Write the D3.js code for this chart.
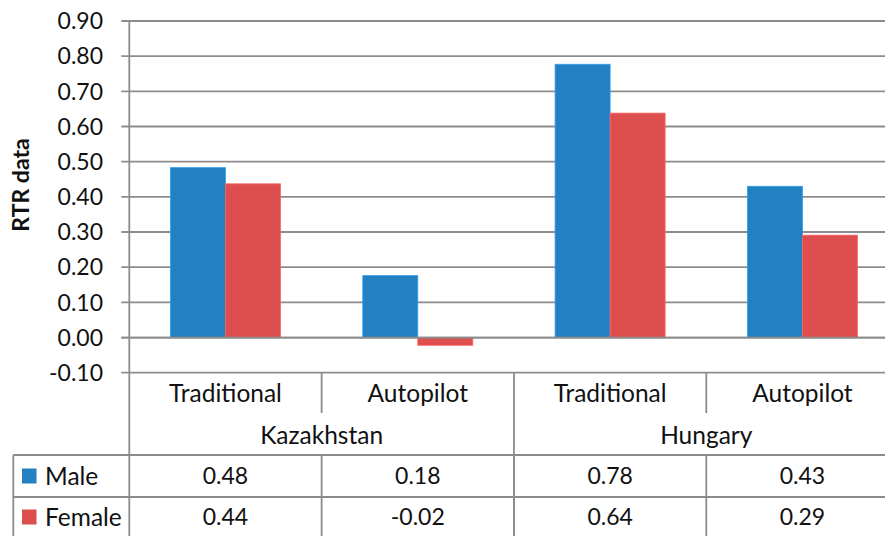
<!DOCTYPE html>
<html><head><meta charset="utf-8">
<script src="https://cdn.jsdelivr.net/npm/d3@7"></script>
<style>
html,body{margin:0;padding:0;background:#fff;overflow:hidden}
svg{display:block;font-family:Lato,"Open Sans",sans-serif}
</style></head>
<body>
<script>
const groups = ["Kazakhstan", "Hungary"];
const categories = ["Traditional", "Autopilot", "Traditional", "Autopilot"];
const categoryGroup = [0, 0, 1, 1];
const seriesNames = ["Male", "Female"];
const male = [0.483, 0.176, 0.777, 0.430];
const female = [0.437, -0.022, 0.638, 0.291];
const yTicks = [-0.1, 0, 0.1, 0.2, 0.3, 0.4, 0.5, 0.6, 0.7, 0.8, 0.9];
const colors = ["#2380c2", "#dc4f4e"];

const W = 885, H = 536;
const L = 129.3, R = 898.6, T = 21, B = 372.7;
const gridColor = "#8c8c8c";
const fs = 23, fsText = 24.5;

const svg = d3.select("body").append("svg").attr("width", W).attr("height", H);

const y = d3.scaleLinear().domain([-0.1, 0.9]).range([B, T]);
const x0 = d3.scaleBand().domain(d3.range(categories.length)).range([L, R]).paddingInner(0).paddingOuter(0);
const bw = x0.bandwidth();
const groupW = bw * 0.572;
const x1 = d3.scaleBand().domain(d3.range(seriesNames.length)).range([(bw - groupW) / 2, (bw + groupW) / 2]);

// gridlines
svg.append("g").selectAll("line").data(yTicks).join("line")
  .attr("x1", L - 8).attr("x2", W)
  .attr("y1", d => y(d)).attr("y2", d => y(d))
  .attr("stroke", gridColor).attr("stroke-width", 1.8);

// tick labels
svg.append("g").selectAll("text").data(yTicks).join("text")
  .attr("x", 103).attr("y", d => y(d)).attr("dy", "0.36em")
  .attr("text-anchor", "end").attr("font-size", fs).attr("fill", "#111")
  .text(d => d.toFixed(2));

// bars
const series = [male, female];
series.forEach((vals, si) => {
  svg.append("g").selectAll("rect").data(vals).join("rect")
    .attr("x", (d, i) => x0(i) + x1(si))
    .attr("width", x1.bandwidth())
    .attr("y", d => y(Math.max(0, d)))
    .attr("height", d => Math.abs(y(d) - y(0)))
    .attr("fill", colors[si])
    .attr("stroke", d3.color(colors[si]).brighter(0.6))
    .attr("stroke-width", 0.8);
});

// zero line on top
svg.append("line").attr("x1", L - 8).attr("x2", W).attr("y1", y(0)).attr("y2", y(0))
  .attr("stroke", gridColor).attr("stroke-width", 1.8);

// y axis line + table vertical
svg.append("line").attr("x1", L).attr("x2", L).attr("y1", T).attr("y2", H)
  .attr("stroke", gridColor).attr("stroke-width", 1.8);

// y title
svg.append("text").attr("transform", `translate(29,185) rotate(-90)`)
  .attr("text-anchor", "middle").attr("font-size", fs).attr("font-weight", "bold").attr("fill", "#111")
  .text("RTR data");

// table geometry
const rowTop = 455, row2 = 497, catLabelY = 393, groupLabelY = 435;
const tableLeft = 13.3;

// category separators (short)
svg.append("g").selectAll("line").data(d3.range(1, categories.length)).join("line")
  .attr("x1", i => x0(i)).attr("x2", i => x0(i))
  .attr("y1", B).attr("y2", i => categoryGroup[i] !== categoryGroup[i - 1] ? H : 413)
  .attr("stroke", gridColor).attr("stroke-width", 1.8);
// data-row separators
svg.append("g").selectAll("line").data(d3.range(1, categories.length)).join("line")
  .attr("x1", i => x0(i)).attr("x2", i => x0(i))
  .attr("y1", rowTop).attr("y2", H)
  .attr("stroke", gridColor).attr("stroke-width", 1.8);

// horizontal table lines
[rowTop, row2].forEach(yy => {
  svg.append("line").attr("x1", tableLeft).attr("x2", W).attr("y1", yy).attr("y2", yy)
    .attr("stroke", gridColor).attr("stroke-width", 1.8);
});
svg.append("line").attr("x1", tableLeft).attr("x2", tableLeft).attr("y1", rowTop).attr("y2", H)
  .attr("stroke", gridColor).attr("stroke-width", 1.8);

// category labels
svg.append("g").selectAll("text").data(categories).join("text")
  .attr("x", (d, i) => x0(i) + bw / 2).attr("y", catLabelY).attr("dy", "0.36em")
  .attr("text-anchor", "middle").attr("font-size", fsText).attr("fill", "#111")
  .text(d => d);

// group labels
svg.append("g").selectAll("text").data(groups).join("text")
  .attr("x", (d, gi) => {
    const idx = d3.range(categories.length).filter(i => categoryGroup[i] === gi);
    return (x0(idx[0]) + x0(idx[idx.length - 1]) + bw) / 2;
  })
  .attr("y", groupLabelY).attr("dy", "0.36em")
  .attr("text-anchor", "middle").attr("font-size", fsText).attr("fill", "#111")
  .text(d => d);

// data rows
const rowCenters = [476, 517];
series.forEach((vals, si) => {
  svg.append("g").selectAll("text").data(vals).join("text")
    .attr("x", (d, i) => x0(i) + bw / 2).attr("y", rowCenters[si]).attr("dy", "0.36em")
    .attr("text-anchor", "middle").attr("font-size", fs).attr("fill", "#111")
    .text(d => d.toFixed(2));
  svg.append("rect").attr("x", 22).attr("y", rowCenters[si] - 7.5).attr("width", 14.5).attr("height", 15)
    .attr("fill", colors[si]);
  svg.append("text").attr("x", 45).attr("y", rowCenters[si]).attr("dy", "0.36em")
    .attr("font-size", fsText).attr("fill", "#111").text(seriesNames[si]);
});
</script>
</body></html>
